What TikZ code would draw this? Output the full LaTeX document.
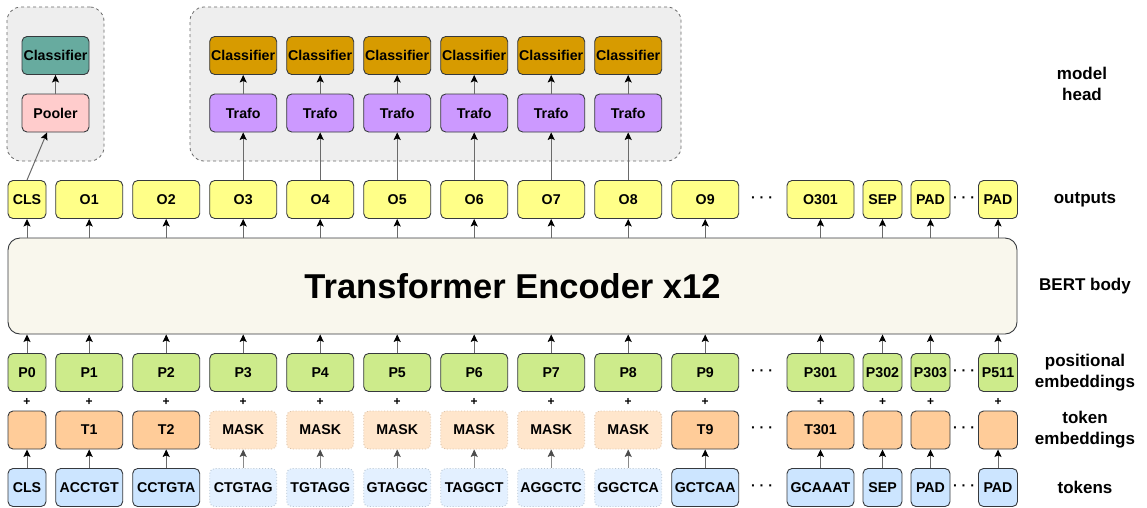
\documentclass[tikz,border=0pt]{standalone}
\usepackage{fontspec}
\setmainfont{Liberation Sans}
\usetikzlibrary{arrows.meta,calc}
\definecolor{strk}{HTML}{36393D}
\definecolor{outY}{HTML}{FFFF88}
\definecolor{bodyC}{HTML}{F9F7ED}
\definecolor{posG}{HTML}{CDEB8B}
\definecolor{tokO}{HTML}{FFCC99}
\definecolor{maskO}{HTML}{FFE6CC}
\definecolor{maskD}{HTML}{D8C0A8}
\definecolor{tokB}{HTML}{CCE5FF}
\definecolor{fadeB}{HTML}{E3F0FF}
\definecolor{fadeD}{HTML}{B8C6D4}
\definecolor{trafoP}{HTML}{CC99FF}
\definecolor{clsO}{HTML}{D79B00}
\definecolor{clsT}{HTML}{67AB9F}
\definecolor{poolR}{HTML}{FFCCCC}
\definecolor{headG}{HTML}{EEEEEE}
\definecolor{arrC}{HTML}{6A6A6A}
\definecolor{arrF}{HTML}{8A8A8A}
\tikzset{
  box/.style={draw=strk, line width=0.9pt, rounded corners=5pt, minimum height=38pt,
    inner sep=0pt, text=black, font=\bfseries\fontsize{14.2}{16}\selectfont},
  maskbox/.style={box, fill=maskO, draw=maskD, dotted},
  fadebox/.style={box, fill=fadeB, draw=fadeD, dotted},
  headbox/.style={draw=arrC, line width=0.8pt, dashed, fill=headG, rounded corners=14pt, inner sep=0pt},
  arr/.style={draw=arrC, line width=1pt, -{Stealth[length=7.5pt,width=7pt,inset=1.5pt,black]}},
  arrfade/.style={draw=arrF, line width=1pt, -{Stealth[length=7.5pt,width=7pt,inset=1.5pt,black!70]}},
  lbl/.style={font=\bfseries\fontsize{17}{21}\selectfont, align=center, text=black},
  plus/.style={font=\bfseries\fontsize{12}{12}\selectfont, inner sep=0pt},
  dotsn/.style={font=\bfseries\fontsize{14}{14}\selectfont, inner sep=0pt}
}
\begin{document}
\begin{tikzpicture}[x=1pt,y=-1pt]
\useasboundingbox (0,0) rectangle (1147,507);

% head containers
\node[headbox, minimum width=97pt, minimum height=154pt] (hleft) at (55.5,84) {};
\node[headbox, minimum width=491pt, minimum height=154pt] (hright) at (435.5,84) {};

% BERT body
\node[draw=strk, line width=0.9pt, fill=bodyC, rounded corners=12pt,
      minimum width=1009pt, minimum height=96pt, inner sep=0pt,
      font=\bfseries\fontsize{34.5}{40}\selectfont] (body) at (512.5,286) {Transformer Encoder x12};

% columns
\foreach \n/\x/\w/\O/\P/\T/\S/\f in {
  c0/27/38/CLS/P0//CLS/0,
  c1/89.2/67/O1/P1/T1/ACCTGT/0,
  c2/166.2/67/O2/P2/T2/CCTGTA/0,
  c3/243.2/67/O3/P3/MASK/CTGTAG/1,
  c4/320.2/67/O4/P4/MASK/TGTAGG/1,
  c5/397.2/67/O5/P5/MASK/GTAGGC/1,
  c6/474.2/67/O6/P6/MASK/TAGGCT/1,
  c7/551.2/67/O7/P7/MASK/AGGCTC/1,
  c8/628.2/67/O8/P8/MASK/GGCTCA/1,
  c9/705.2/67/O9/P9/T9/GCTCAA/0,
  c301/820.5/67/O301/P301/T301/GCAAAT/0,
  csep/882.5/39/SEP/P302//SEP/0,
  cpad/930.5/39/PAD/P303//PAD/0,
  cpadb/998/39/PAD/P511//PAD/0}
{
  \node[box, fill=outY, minimum width=\w pt] (o\n) at (\x,199.5) {\O};
  \node[box, fill=posG, minimum width=\w pt] (p\n) at (\x,372.5) {\P};
  \node[plus] (plus\n) at (\x,402) {+};
  \ifnum\f=1
    \node[maskbox, minimum width=\w pt] (t\n) at (\x,430) {\T};
    \node[fadebox, minimum width=\w pt] (s\n) at (\x,487.5) {\S};
    \draw[arrfade] (s\n.north) -- (t\n.south);
  \else
    \node[box, fill=tokO, minimum width=\w pt] (t\n) at (\x,430) {\T};
    \node[box, fill=tokB, minimum width=\w pt] (s\n) at (\x,487.5) {\S};
    \draw[arr] (s\n.north) -- (t\n.south);
  \fi
  \draw[arr] (o\n.south |- body.north) -- (o\n.south);
  \draw[arr] (p\n.north) -- (p\n.north |- body.south);
}

% dots
\foreach \k/\y in {o/199.5, p/372.5, t/430, s/487.5}{
  \node[dotsn] (dA\k) at (762,\y) {·\hspace{4pt}·\hspace{4pt}·};
  \node[dotsn] (dB\k) at (964,\y) {·\hspace{4pt}·\hspace{4pt}·};
}

% left head
\node[box, fill=clsT, minimum width=67pt] (clsL) at (55.5,55.5) {Classifier};
\node[box, fill=poolR, minimum width=67pt] (pooler) at (55.5,113) {Pooler};
\draw[arr] (pooler.north) -- (clsL.south);
\draw[arr] (oc0.north) -- ($(pooler.south)+(-8.5,0)$);

% right head
\foreach \i/\x in {3/243.2,4/320.2,5/397.2,6/474.2,7/551.2,8/628.2}{
  \node[box, fill=clsO, minimum width=67pt] (cls\i) at (\x,55.5) {Classifier};
  \node[box, fill=trafoP, minimum width=67pt] (trafo\i) at (\x,113) {Trafo};
  \draw[arr] (trafo\i.north) -- (cls\i.south);
  \draw[arr] (oc\i.north) -- (trafo\i.south);
}

% right labels
\node[lbl] (lhead) at (1082,84) {model\\head};
\node[lbl] (lout) at (1085,199.5) {outputs};
\node[lbl] (lbody) at (1085,286) {BERT body};
\node[lbl] (lpos) at (1085,372.5) {positional\\embeddings};
\node[lbl] (ltok) at (1085,430) {token\\embeddings};
\node[lbl] (lseq) at (1085,487.5) {tokens};
\end{tikzpicture}
\end{document}
